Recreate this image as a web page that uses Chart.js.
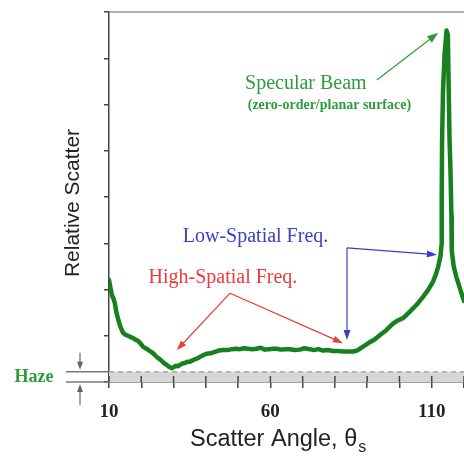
<!DOCTYPE html>
<html>
<head>
<meta charset="utf-8">
<script src="https://cdn.jsdelivr.net/npm/chart.js@4.4.1/dist/chart.umd.min.js"></script>
<style>
  html, body { margin: 0; padding: 0; background: #fff; }
  #chart-canvas { display: block; }
</style>
</head>
<body>
<canvas id="chart-canvas" width="464" height="469"></canvas>
<script>
// scatter angle (deg) and relative scatter
const angles = [10.0, 10.5, 10.9, 11.4, 11.8, 12.3, 12.9, 13.6, 14.4, 15.2, 15.9, 16.7, 17.5, 18.3, 19.0, 19.8,
  20.6, 21.6, 22.7, 23.7, 24.8, 25.6, 26.4, 27.2, 27.9, 28.6, 29.4, 30.0, 30.7, 31.3, 32.0, 32.8, 33.5, 34.3,
  35.1, 36.3, 37.6, 38.9, 40.2, 41.5, 42.8, 44.0, 45.3, 46.7, 48.1, 49.3, 50.6, 51.8, 53.0, 54.4, 55.7, 57.0,
  58.3, 59.5, 60.8, 62.0, 63.3, 64.7, 66.0, 67.6, 69.1, 70.6, 72.2, 73.5, 74.9, 76.3, 77.8, 79.4, 80.9, 82.5,
  84.0, 85.5, 86.3, 87.1, 88.6, 89.7, 90.8, 92.3, 93.9, 95.9, 98.0, 99.5, 101.1, 102.6, 104.2, 105.8, 107.3,
  108.9, 110.4, 111.3, 112.0, 112.7, 113.1, 113.1, 113.2, 113.5, 114.0, 114.6, 115.0, 115.2, 115.5, 115.8,
  116.1, 116.2, 116.8, 117.6, 118.4, 119.2, 120.0];
const scatter = [2.21, 2.02, 1.88, 1.80, 1.71, 1.50, 1.34, 1.18, 1.06, 1.02, 1.00, 0.97, 0.95, 0.91, 0.89, 0.83,
  0.76, 0.72, 0.67, 0.62, 0.54, 0.50, 0.45, 0.40, 0.37, 0.33, 0.30, 0.32, 0.35, 0.34, 0.37, 0.40, 0.41, 0.44,
  0.44, 0.48, 0.52, 0.57, 0.61, 0.62, 0.65, 0.68, 0.69, 0.69, 0.71, 0.72, 0.71, 0.73, 0.72, 0.71, 0.72, 0.74,
  0.70, 0.71, 0.72, 0.72, 0.70, 0.71, 0.71, 0.69, 0.70, 0.73, 0.71, 0.69, 0.71, 0.68, 0.69, 0.67, 0.67, 0.66,
  0.66, 0.66, 0.67, 0.69, 0.76, 0.81, 0.86, 0.92, 1.01, 1.12, 1.26, 1.33, 1.38, 1.48, 1.59, 1.71, 1.84,
  1.99, 2.17, 2.33, 2.49, 2.72, 3.0, 4.0, 5.2, 6.3, 7.1, 7.6, 7.5, 6.6, 5.3, 4.6,
  3.6, 2.85, 2.50, 2.28, 2.10, 1.92, 1.75];

const hazeLevel = 0.22;
const xLabels = [10, 60, 110];

const curveGreen = 'rgb(24,128,28)';
const textGreen = 'rgb(46,156,58)';
const serif = '"Liberation Serif", "Times New Roman", serif';
const sans = '"Liberation Sans", Arial, sans-serif';

function arrow(ctx, x1, y1, x2, y2, color, len, half) {
  len = len || 9; half = half || 3.5;
  const a = Math.atan2(y2 - y1, x2 - x1);
  ctx.strokeStyle = color; ctx.fillStyle = color; ctx.lineWidth = 1.2;
  ctx.beginPath(); ctx.moveTo(x1, y1);
  ctx.lineTo(x2 - Math.cos(a) * len * 0.8, y2 - Math.sin(a) * len * 0.8); ctx.stroke();
  ctx.beginPath();
  ctx.moveTo(x2, y2);
  ctx.lineTo(x2 - Math.cos(a) * len - Math.sin(a) * half, y2 - Math.sin(a) * len + Math.cos(a) * half);
  ctx.lineTo(x2 - Math.cos(a) * len + Math.sin(a) * half, y2 - Math.sin(a) * len - Math.cos(a) * half);
  ctx.closePath(); ctx.fill();
}

const decor = {
  id: 'decor',
  afterDraw(chart) {
    const ctx = chart.ctx, xs = chart.scales.x, ys = chart.scales.y, area = chart.chartArea;
    const px = v => xs.getPixelForValue(v), py = v => ys.getPixelForValue(v);
    ctx.save();

    // top frame line
    ctx.strokeStyle = '#9a9a9a'; ctx.lineWidth = 1.5;
    ctx.beginPath(); ctx.moveTo(area.left, area.top); ctx.lineTo(area.right, area.top); ctx.stroke();

    // x ticks reaching above the axis
    ctx.strokeStyle = '#444'; ctx.lineWidth = 1.5;
    for (let v = 10; v <= 120; v += 10) {
      ctx.beginPath(); ctx.moveTo(px(v), area.bottom - 6); ctx.lineTo(px(v), area.bottom); ctx.stroke();
    }

    // haze marker on the left
    const hTop = py(hazeLevel), hBot = area.bottom;
    ctx.strokeStyle = '#777'; ctx.lineWidth = 1.5;
    ctx.beginPath(); ctx.moveTo(66, hTop); ctx.lineTo(area.left, hTop); ctx.stroke();
    ctx.beginPath(); ctx.moveTo(66, hBot); ctx.lineTo(area.left, hBot); ctx.stroke();
    arrow(ctx, 80, hTop - 19, 80, hTop - 2, '#666', 8, 3);
    arrow(ctx, 80, hBot + 23, 80, hBot + 2, '#666', 8, 3);
    ctx.fillStyle = textGreen; ctx.font = 'bold 18px ' + serif;
    ctx.textAlign = 'center'; ctx.textBaseline = 'middle';
    ctx.fillText('Haze', 34, 377);

    // specular beam
    ctx.font = '20px ' + serif; ctx.fillStyle = textGreen;
    ctx.fillText('Specular Beam', px(71), py(6.44));
    ctx.font = 'bold 14px ' + serif;
    ctx.fillText('(zero-order/planar surface)', px(78.3), py(5.99));
    arrow(ctx, px(93), py(6.53), px(112), py(7.55), textGreen, 11, 4);

    // low spatial frequency
    const blue = 'rgb(58,62,196)';
    ctx.font = '20px ' + serif; ctx.fillStyle = blue;
    ctx.fillText('Low-Spatial Freq.', px(55.4), py(3.14));
    ctx.strokeStyle = blue; ctx.lineWidth = 1.2;
    arrow(ctx, px(83.75), py(2.9), px(83.75), py(0.91), blue, 10, 3.5);
    arrow(ctx, px(83.75), py(2.9), px(111.6), py(2.75), blue, 10, 3.5);

    // high spatial frequency
    const red = 'rgb(236,58,58)';
    ctx.fillStyle = red;
    ctx.fillText('High-Spatial Freq.', px(45.3), py(2.25));
    arrow(ctx, px(47.5), py(1.92), px(31), py(0.69), red, 10, 3.5);
    arrow(ctx, px(47.5), py(1.92), px(82.5), py(0.84), red, 10, 3.5);

    // axis titles
    ctx.fillStyle = '#222'; ctx.font = '23.5px ' + sans;
    ctx.textAlign = 'left'; ctx.textBaseline = 'alphabetic';
    const main = 'Scatter Angle, θ';
    const w = ctx.measureText(main).width;
    const x0 = 190;
    ctx.fillText(main, x0, 446);
    ctx.font = '16px ' + sans;
    ctx.fillText('s', x0 + w + 1, 452);

    ctx.translate(area.left - 36, (area.top + area.bottom) / 2 + 6);
    ctx.rotate(-Math.PI / 2);
    ctx.textAlign = 'center'; ctx.textBaseline = 'middle';
    ctx.font = '21px ' + sans;
    ctx.fillText('Relative Scatter', 0, 0);
    ctx.restore();
  }
};

const chartCtx = document.getElementById('chart-canvas');

const scatterChart = new Chart(chartCtx, {
  type: 'line',
  data: {
    datasets: [
      {
        label: 'Relative Scatter',
        data: angles.map((a, i) => ({ x: a, y: scatter[i] })),
        borderColor: curveGreen,
        borderWidth: 4.5,
        borderJoinStyle: 'round',
        borderCapStyle: 'round',
        pointRadius: 0,
        pointHoverRadius: 0,
        tension: 0,
        fill: false,
        order: 0
      },
      {
        label: 'Haze',
        data: [{ x: 10, y: hazeLevel }, { x: 120, y: hazeLevel }],
        borderColor: '#9a9a9a',
        backgroundColor: 'rgb(214,214,214)',
        borderWidth: 1.3,
        borderDash: [5, 4],
        pointRadius: 0,
        pointHoverRadius: 0,
        fill: 'origin',
        order: 1
      }
    ]
  },
  options: {
    responsive: false,
    animation: false,
    devicePixelRatio: 1,
    layout: { autoPadding: false, padding: { top: 12, right: 0, left: 0, bottom: 0 } },
    plugins: { legend: { display: false }, tooltip: { enabled: false } },
    scales: {
      x: {
        type: 'linear',
        min: 10,
        max: 120,
        afterFit(scale) { scale.height = 87; scale.paddingRight = 0; scale.paddingLeft = 0; },
        border: { color: '#444', width: 1.5 },
        grid: { drawOnChartArea: false, tickLength: 6, color: '#444', lineWidth: 1.5 },
        ticks: {
          stepSize: 10,
          autoSkip: false,
          maxRotation: 0,
          padding: 13,
          color: '#222',
          font: { family: serif, size: 19, weight: 'bold' },
          callback: v => xLabels.includes(v) ? String(v) : ''
        }
      },
      y: {
        min: 0,
        max: 8,
        afterFit(scale) { scale.width = 109; },
        border: { color: '#444', width: 1.5 },
        grid: { drawOnChartArea: false, tickLength: 5, color: '#444', lineWidth: 1.5 },
        ticks: { stepSize: 1, display: false }
      }
    }
  },
  plugins: [decor]
});
</script>
</body>
</html>
